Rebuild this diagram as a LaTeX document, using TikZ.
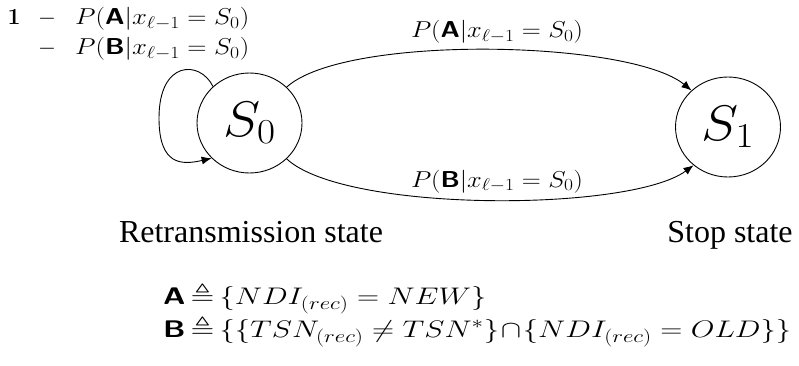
\RequirePackage{fix-cm}
\documentclass[tikz,border=0pt]{standalone}
\usepackage[no-math]{fontspec}
\usepackage{amsmath,amssymb}
\usepackage{graphicx}
\usetikzlibrary{arrows.meta,shapes.geometric}
\setmainfont{Liberation Serif}
\setsansfont{Latin Modern Sans}

% math sizes for the large type used here
\DeclareMathSizes{23}{23}{17}{12}
\DeclareMathSizes{24}{24}{18}{13}
\DeclareMathSizes{50}{50}{35}{25}

% bold sans-serif event letters
\newcommand{\evA}{\mbox{\sffamily\bfseries A}}
\newcommand{\evB}{\mbox{\sffamily\bfseries B}}
% tight operators used in the event definitions
\newcommand{\defeq}{\mathrel{\mkern-2mu\triangleq\mkern-2mu}}
\newcommand{\tcap}{\mathbin{\mkern-3mu\cap\mkern-3mu}}

\tikzset{
  state/.style={draw, ellipse, line width=0.9pt, inner sep=0pt,
                minimum width=105pt, minimum height=100pt},
  trans/.style={line width=0.9pt, -{Latex[length=10pt,width=8pt]}},
  lbl/.style={inner sep=0pt, font=\fontsize{23}{27}\selectfont},
  caption/.style={inner sep=0pt, font=\rmfamily\fontsize{32}{36}\selectfont},
  defs/.style={inner sep=0pt, font=\fontsize{24}{33}\selectfont},
}

\begin{document}
\begin{tikzpicture}[x=1pt, y=-1pt]
\useasboundingbox (0,0) rectangle (799,366);

% states
\node[state] (s0) at (249.5,123)
  {\fontsize{50}{60}\selectfont\scalebox{1.12}[1]{$S_0$}};
\node[state] (s1) at (728,127)
  {\fontsize{50}{60}\selectfont\scalebox{1.12}[1]{$S_1$}};

% transitions S0 -> S1
\draw[trans] (s0.44) .. controls (345,34) and (630,40) .. (s1.135);
\draw[trans] (s0.-44) .. controls (345,213) and (630,212) .. (s1.-132);

% self loop on S0
\coordinate (lp) at (159,118);
\draw[line width=0.9pt] (s0.135) .. controls (200,60) and (159,60) .. (lp);
\draw[trans] (lp) .. controls (159,166) and (182,165) .. (s0.-137);

% transition labels
\node[lbl, anchor=base] (la) at (497,38)
  {\resizebox{172pt}{\height}{$P(\evA|x_{\ell-1}=S_0)$}};
\node[lbl, anchor=base] (lb) at (497,187)
  {\resizebox{172pt}{\height}{$P(\evB|x_{\ell-1}=S_0)$}};

% self-loop label
\node[lbl, anchor=base] (one) at (14,25) {$\mathbf{1}$};
\node[lbl, anchor=base] (m1) at (47,25) {$-$};
\node[lbl, anchor=base] (m2) at (47,55) {$-$};
\node[lbl, anchor=base west] (pa) at (75,25)
  {\resizebox{174pt}{\height}{$P(\evA|x_{\ell-1}=S_0)$}};
\node[lbl, anchor=base west] (pb) at (75,55)
  {\resizebox{174pt}{\height}{$P(\evB|x_{\ell-1}=S_0)$}};

% state captions
\node[caption, anchor=base] (c0) at (251,242) {Retransmission state};
\node[caption, anchor=base] (c1) at (730,242) {Stop state};

% event definitions
\node[defs, anchor=west] (defs) at (163,314)
  {\resizebox{628pt}{\height}{\begin{tabular}{@{}l@{}}
    $\evA\defeq\{NDI_{(rec)}=NEW\}$\\
    $\evB\defeq\{\{TSN_{(rec)}\neq TSN^{*}\}\tcap\{NDI_{(rec)}=OLD\}\}$
  \end{tabular}}};
\end{tikzpicture}
\end{document}
